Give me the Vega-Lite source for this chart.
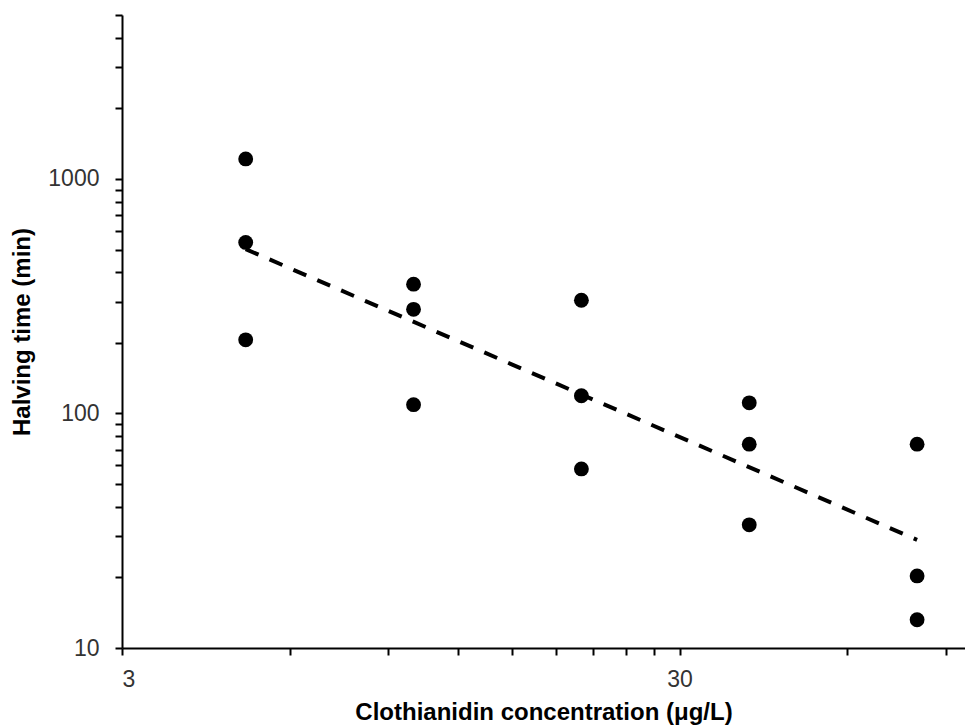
{
  "$schema": "https://vega.github.io/schema/vega-lite/v6.json",
  "width": 843,
  "height": 633,
  "autosize": {"type": "none"},
  "padding": {"left": 122, "top": 15, "right": 0, "bottom": 79},
  "background": "white",
  "config": {
    "view": {"stroke": null},
    "font": "Liberation Sans",
    "axis": {
      "domainColor": "black",
      "domainWidth": 2,
      "tickColor": "black",
      "tickWidth": 2,
      "tickSize": 7,
      "grid": false,
      "labelFont": "Liberation Sans",
      "labelFontSize": 23,
      "labelColor": "#333",
      "titleFont": "Liberation Sans",
      "titleFontSize": 24,
      "titleFontWeight": "bold",
      "titleColor": "black"
    }
  },
  "datasets": {
    "points": [
      {"conc": 5, "time": 1217},
      {"conc": 5, "time": 536},
      {"conc": 5, "time": 206},
      {"conc": 10, "time": 356},
      {"conc": 10, "time": 278},
      {"conc": 10, "time": 109},
      {"conc": 20, "time": 304},
      {"conc": 20, "time": 119},
      {"conc": 20, "time": 58},
      {"conc": 40, "time": 111},
      {"conc": 40, "time": 74},
      {"conc": 40, "time": 33.5},
      {"conc": 80, "time": 74},
      {"conc": 80, "time": 20.3},
      {"conc": 80, "time": 13.2}
    ],
    "fit": [
      {"conc": 5, "time": 502},
      {"conc": 80, "time": 28.9}
    ]
  },
  "layer": [
    {
      "data": {"name": "fit"},
      "mark": {"type": "line", "color": "black", "strokeWidth": 4, "strokeDash": [14, 12]},
      "encoding": {
        "x": {"field": "conc", "type": "quantitative"},
        "y": {"field": "time", "type": "quantitative"}
      }
    },
    {
      "data": {"name": "points"},
      "mark": {"type": "circle", "color": "black", "opacity": 1, "size": 220},
      "encoding": {
        "x": {
          "field": "conc",
          "type": "quantitative",
          "scale": {"type": "log", "domain": [3, 97.5], "nice": false},
          "axis": {
            "title": "Clothianidin concentration (μg/L)",
            "values": [3, 6, 9, 12, 15, 18, 21, 24, 27, 30, 60, 90],
            "labelExpr": "datum.value == 3 || datum.value == 30 ? datum.value : ''",
            "labelPadding": 13,
            "titlePadding": 9
          }
        },
        "y": {
          "field": "time",
          "type": "quantitative",
          "scale": {"type": "log", "domain": [10, 5000], "nice": false},
          "axis": {
            "title": "Halving time (min)",
            "values": [10, 20, 30, 40, 50, 60, 70, 80, 90, 100, 200, 300, 400, 500, 600, 700, 800, 900, 1000, 2000, 3000, 4000, 5000],
            "labelExpr": "datum.value == 10 || datum.value == 100 || datum.value == 1000 ? datum.value : ''",
            "labelPadding": 16,
            "titlePadding": 13
          }
        }
      }
    }
  ]
}
